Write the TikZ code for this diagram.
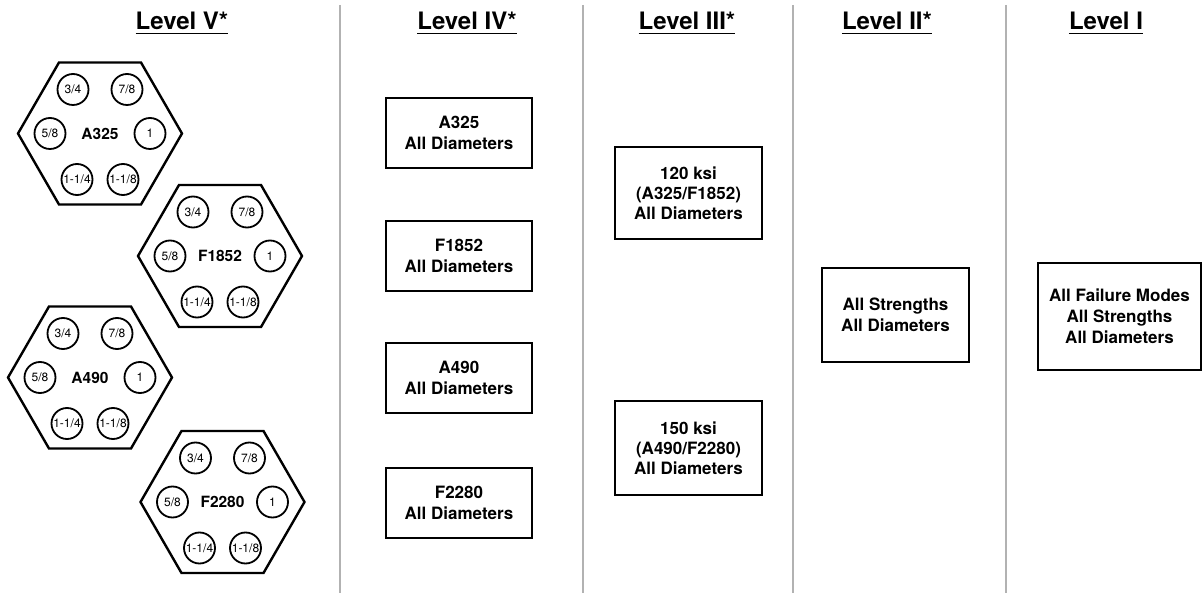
\documentclass[tikz,border=0pt]{standalone}
\usepackage{fontspec}
\setmainfont{TeX Gyre Heros}
\usetikzlibrary{shapes.geometric}
\begin{document}
\begin{tikzpicture}[x=1pt, y=-1pt,
		hexa/.style={draw, line width=2.4pt, regular polygon, regular polygon sides=6, minimum size=164pt, inner sep=0pt, font=\bfseries\fontsize{15.5}{18}\selectfont},
		dia/.style={draw, circle, line width=1.8pt, minimum size=31pt, inner sep=0pt, font=\fontsize{12}{12}\selectfont},
		lvbox/.style={draw, line width=2.6pt, inner sep=0pt, align=center, font=\bfseries\fontsize{17}{21}\selectfont},
		lvtitle/.style={anchor=base, inner sep=0pt, font=\bfseries\fontsize{24}{24}\selectfont},
		uline/.style={line width=1.6pt},
		sep/.style={draw=black!30, line width=1.4pt}]
				\useasboundingbox (0,0) rectangle (1203,593);

				% Separators
				\draw[sep] (340,5) -- (340,593);
				\draw[sep] (583,5) -- (583,593);
				\draw[sep] (793,5) -- (793,593);
				\draw[sep] (1006,5) -- (1006,593);

				% Titles
				\node[lvtitle] (lv5) at (182,30) {Level V*};
				\node[lvtitle] (lv4) at (467,30) {Level IV*};
				\node[lvtitle] (lv3) at (687,30) {Level III*};
				\node[lvtitle] (lv2) at (887,30) {Level II*};
				\node[lvtitle] (lv1) at (1106,30) {Level I};
				\draw[uline] ([yshift=-3.5pt]lv5.base west) -- ([yshift=-3.5pt]lv5.base east);
				\draw[uline] ([yshift=-3.5pt]lv4.base west) -- ([yshift=-3.5pt]lv4.base east);
				\draw[uline] ([yshift=-3.5pt]lv3.base west) -- ([yshift=-3.5pt]lv3.base east);
				\draw[uline] ([yshift=-3.5pt]lv2.base west) -- ([yshift=-3.5pt]lv2.base east);
				\draw[uline] ([yshift=-3.5pt]lv1.base west) -- ([yshift=-3.5pt]lv1.base east);

				% A325
				\node[hexa] (a325) at (100,133.5) {A325};
				\node[dia] (a325-34) at (73,89.5) {3/4};
				\node[dia] (a325-78) at (127,89.5) {7/8};
				\node[dia] (a325-58) at (50,133.5) {5/8};
				\node[dia] (a325-1) at (150,133.5) {1};
				\node[dia] (a325-114) at (77,179.5) {1-1/4};
				\node[dia] (a325-118) at (123,179.5) {1-1/8};

				% F1852
				\node[hexa] (f1852) at (220,256) {F1852};
				\node[dia] (f1852-34) at (193,212) {3/4};
				\node[dia] (f1852-78) at (247,212) {7/8};
				\node[dia] (f1852-58) at (170,256) {5/8};
				\node[dia] (f1852-1) at (270,256) {1};
				\node[dia] (f1852-114) at (197,302) {1-1/4};
				\node[dia] (f1852-118) at (243,302) {1-1/8};

				% A490
				\node[hexa] (a490) at (90,377.5) {A490};
				\node[dia] (a490-34) at (63,333.5) {3/4};
				\node[dia] (a490-78) at (117,333.5) {7/8};
				\node[dia] (a490-58) at (40,377.5) {5/8};
				\node[dia] (a490-1) at (140,377.5) {1};
				\node[dia] (a490-114) at (67,423.5) {1-1/4};
				\node[dia] (a490-118) at (113,423.5) {1-1/8};

				% F2280
				\node[hexa] (f2280) at (222.5,502) {F2280};
				\node[dia] (f2280-34) at (195.5,458) {3/4};
				\node[dia] (f2280-78) at (249.5,458) {7/8};
				\node[dia] (f2280-58) at (172.5,502) {5/8};
				\node[dia] (f2280-1) at (272.5,502) {1};
				\node[dia] (f2280-114) at (199.5,548) {1-1/4};
				\node[dia] (f2280-118) at (245.5,548) {1-1/8};

				% Level IV
				\node[lvbox, minimum width=146pt, minimum height=70pt] (iv-a325) at (459,133) {A325\\All Diameters};
				\node[lvbox, minimum width=146pt, minimum height=70pt] (iv-f1852) at (459,256) {F1852\\All Diameters};
				\node[lvbox, minimum width=146pt, minimum height=70pt] (iv-a490) at (459,378) {A490\\All Diameters};
				\node[lvbox, minimum width=146pt, minimum height=70pt] (iv-f2280) at (459,503) {F2280\\All Diameters};

				% Level III
				\node[lvbox, minimum width=147pt, minimum height=92pt, font=\bfseries\fontsize{17}{20}\selectfont] (iii-120) at (688.5,193) {120 ksi\\(A325/F1852)\\All Diameters};
				\node[lvbox, minimum width=147pt, minimum height=94pt, font=\bfseries\fontsize{17}{20}\selectfont] (iii-150) at (688.5,448) {150 ksi\\(A490/F2280)\\All Diameters};

				% Level II
				\node[lvbox, minimum width=147pt, minimum height=94pt] (ii-all) at (895.5,315) {All Strengths\\All Diameters};

				% Level I
				\node[lvbox, minimum width=163pt, minimum height=107pt] (i-all) at (1119.5,316.5) {All Failure Modes\\All Strengths\\All Diameters};
			\end{tikzpicture}
\end{document}
